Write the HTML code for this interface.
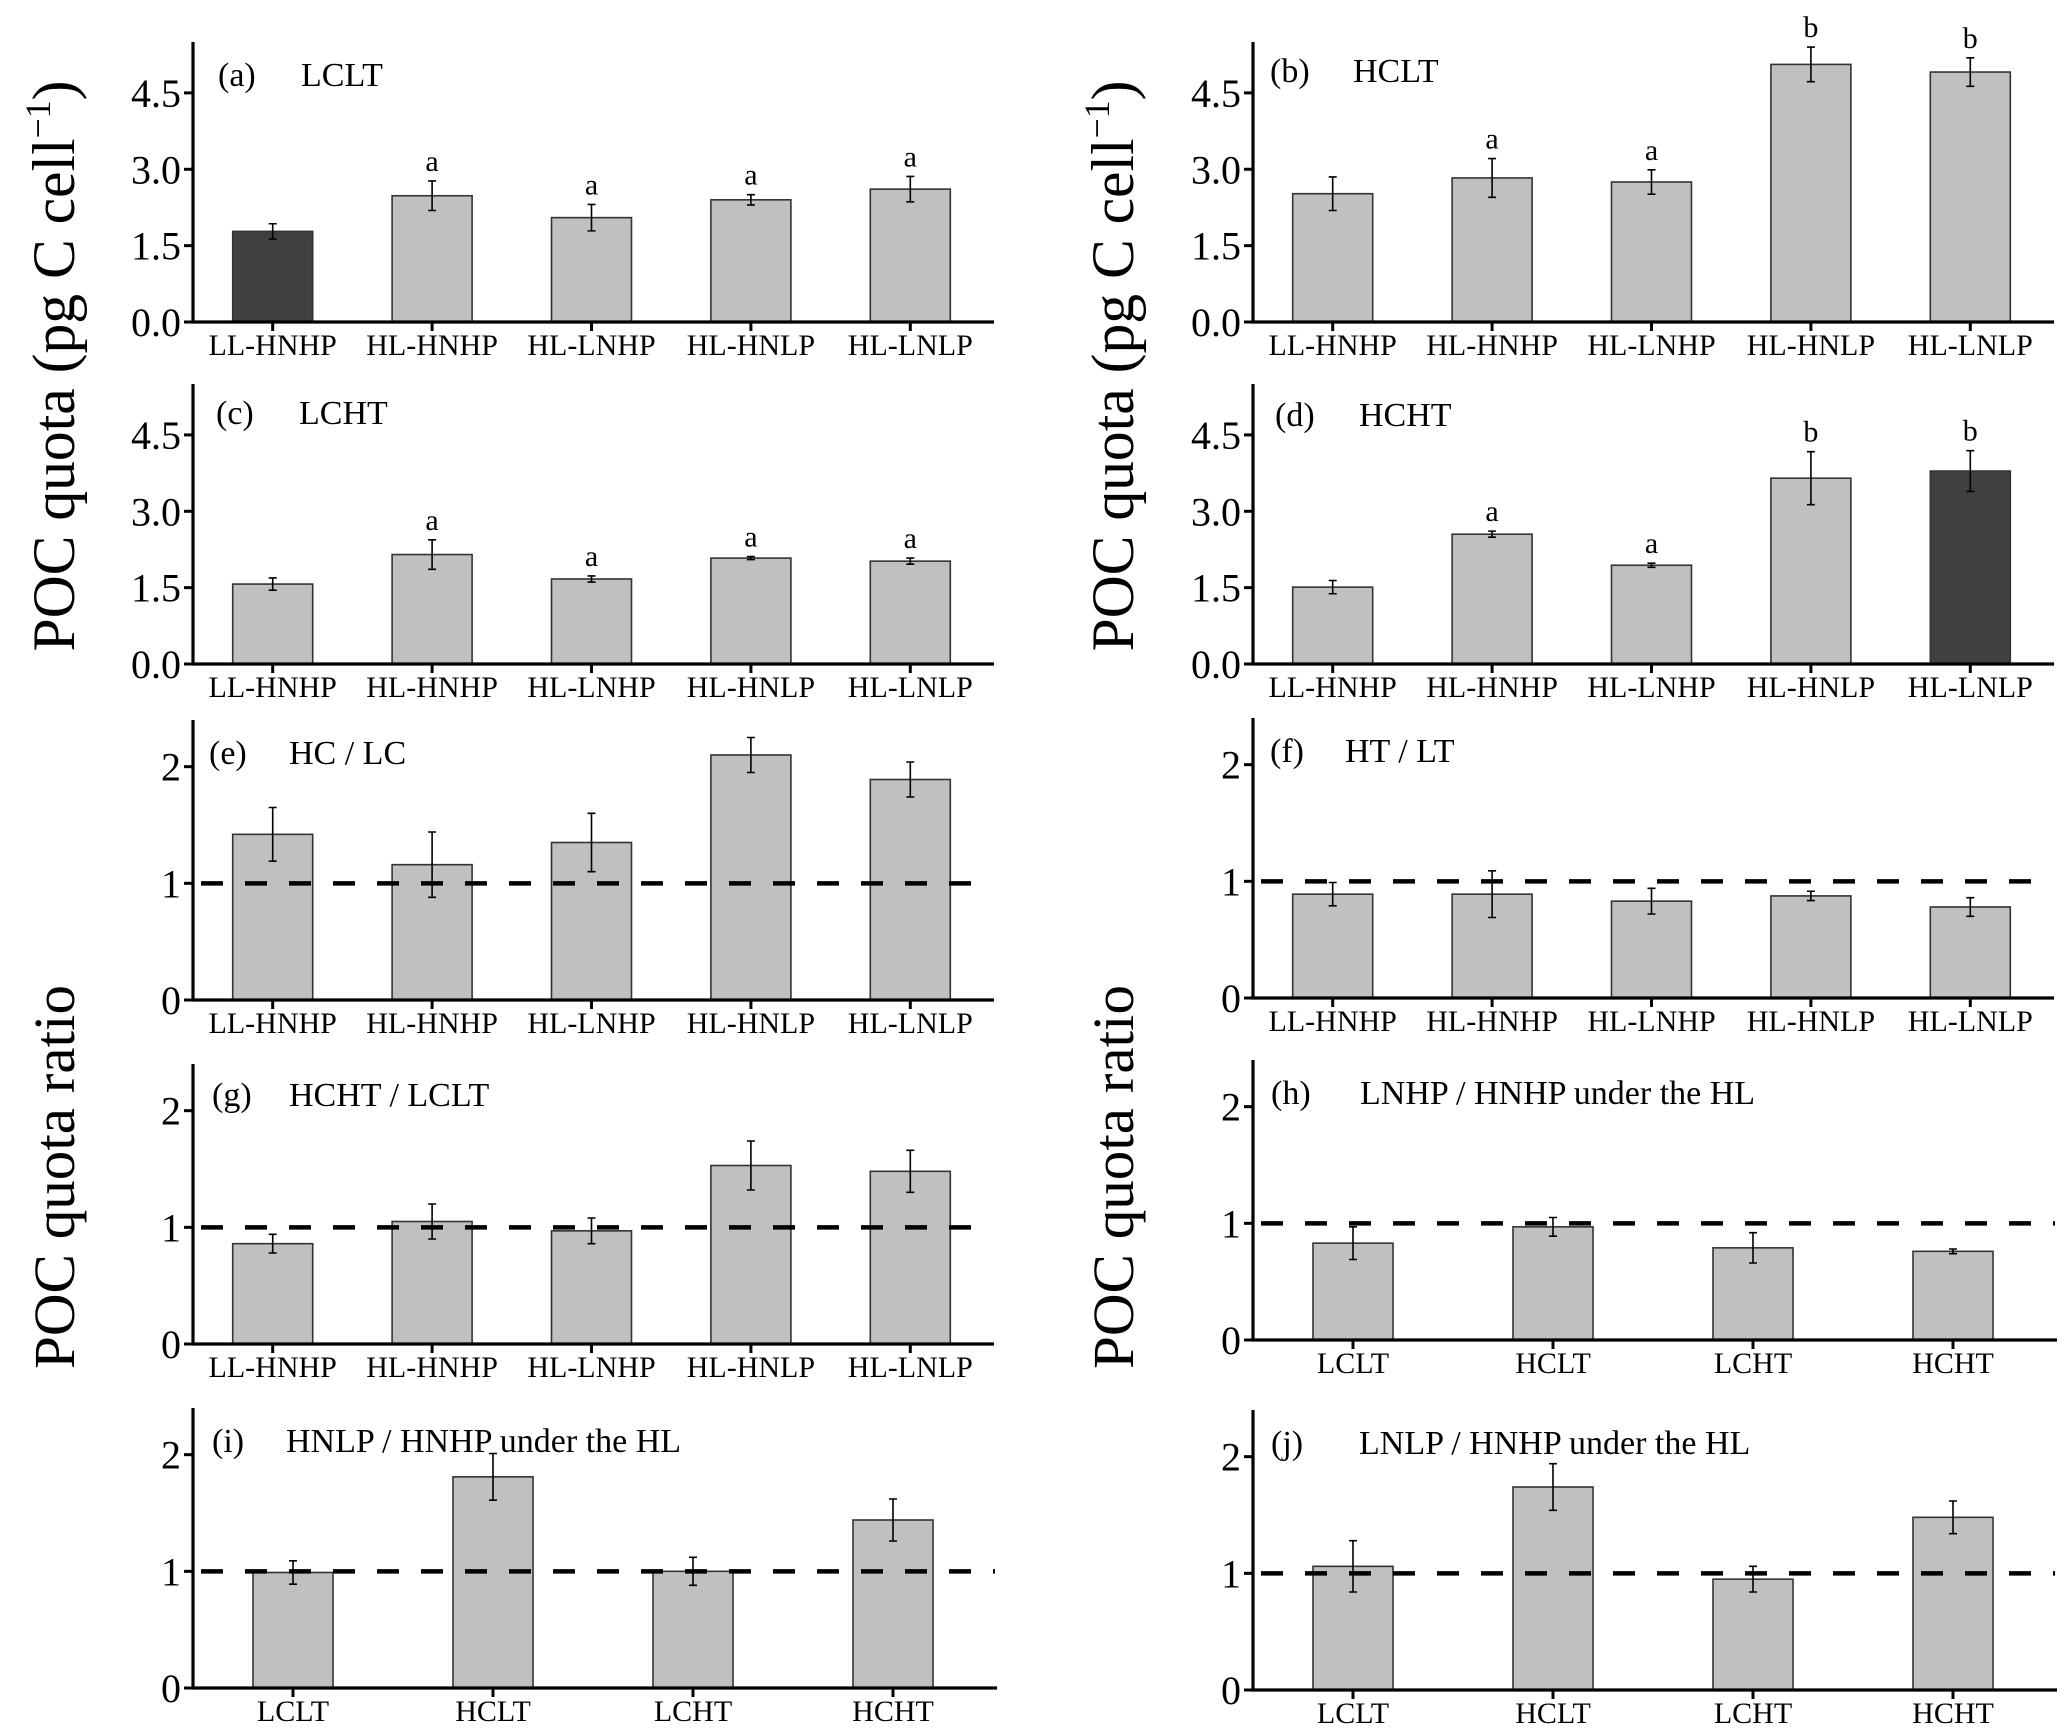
<!DOCTYPE html>
<html><head><meta charset="utf-8"><style>
html,body{margin:0;padding:0;background:#fff;}
svg{display:block;font-family:"Liberation Serif",serif;}
</style></head><body>
<svg id="fig" width="2067" height="1736" viewBox="0 0 2067 1736" xmlns="http://www.w3.org/2000/svg">
<text transform="translate(74,366) rotate(-90)" text-anchor="middle" font-size="60" textLength="571" lengthAdjust="spacingAndGlyphs">POC quota (pg C cell<tspan font-size="36" dy="-24">−1</tspan><tspan dy="24">)</tspan></text>
<text transform="translate(1133,366) rotate(-90)" text-anchor="middle" font-size="60" textLength="571" lengthAdjust="spacingAndGlyphs">POC quota (pg C cell<tspan font-size="36" dy="-24">−1</tspan><tspan dy="24">)</tspan></text>
<text transform="translate(74,1177) rotate(-90)" text-anchor="middle" font-size="58" textLength="384" lengthAdjust="spacingAndGlyphs">POC quota ratio</text>
<text transform="translate(1133,1177) rotate(-90)" text-anchor="middle" font-size="58" textLength="384" lengthAdjust="spacingAndGlyphs">POC quota ratio</text>
</svg>
<script>
const cats5 = ["LL-HNHP","HL-HNHP","HL-LNHP","HL-HNLP","HL-LNLP"];
const cats4 = ["LCLT","HCLT","LCHT","HCHT"];
const ticksQuota = ["0.0","1.5","3.0","4.5"];
const ticksRatio = ["0","1","2"];
const valsA = [1.78,2.48,2.05,2.40,2.61];
const errA  = [0.15,0.29,0.26,0.10,0.25];
const lettersA = ["","a","a","a","a"];
const valsB = [2.52,2.83,2.75,5.06,4.91];
const errB  = [0.33,0.38,0.24,0.34,0.28];
const lettersB = ["","a","a","b","b"];
const valsC = [1.57,2.15,1.67,2.08,2.02];
const errC  = [0.12,0.29,0.06,0.03,0.06];
const lettersC = ["","a","a","a","a"];
const valsD = [1.51,2.55,1.94,3.65,3.79];
const errD  = [0.13,0.06,0.04,0.52,0.40];
const lettersD = ["","a","a","b","b"];
const valsE = [1.42,1.16,1.35,2.10,1.89];
const errE  = [0.23,0.28,0.25,0.15,0.15];
const valsF = [0.89,0.89,0.83,0.875,0.78];
const errF  = [0.10,0.20,0.11,0.04,0.08];
const valsG = [0.86,1.05,0.97,1.53,1.48];
const errG  = [0.08,0.15,0.11,0.21,0.18];
const valsH = [0.83,0.97,0.79,0.76];
const errH  = [0.14,0.08,0.13,0.02];
const valsI = [0.99,1.81,1.00,1.44];
const errI  = [0.10,0.20,0.12,0.18];
const valsJ = [1.06,1.74,0.95,1.48];
const errJ  = [0.22,0.20,0.11,0.14];

const NS="http://www.w3.org/2000/svg";
const svg=document.getElementById('fig');
function mk(tag,attrs,parent){const e=document.createElementNS(NS,tag);for(const k in attrs)e.setAttribute(k,attrs[k]);(parent||svg).appendChild(e);return e;}

function panel(p){
  const g=mk('g',{});
  
  
  const x0=p.x0,w=p.w,base=p.base,h=280,top=base-h;
  const yS=v=>base-v/p.ymax*h;
  const n=p.cats.length,band=w/n;
  const xS=i=>x0+band*(i+0.5);
  // bars
  p.vals.forEach((v,i)=>{
    const r=mk('rect',{x:xS(i)-40,y:yS(v),width:80,height:base-yS(v),fill:(p.dark===i?'#404040':'#c0c0c0'),stroke:'#333','stroke-width':1.6},g);
    
    
    const e=p.err[i],cx=xS(i);
    const eb=mk('path',{d:`M${cx} ${yS(v+e)}V${yS(v-e)}M${cx-4} ${yS(v+e)}H${cx+4}M${cx-4} ${yS(v-e)}H${cx+4}`,stroke:'#000','stroke-width':1.6,fill:'none'},g);
    
    
    if(p.letters&&p.letters[i]){
      const t=mk('text',{x:cx,y:yS(v+e)-10,'text-anchor':'middle','font-size':30},g);
      t.textContent=p.letters[i];
      
      
    }
  });
  if(p.dash){
    const d=mk('line',{x1:x0+8,x2:x0+w+2,y1:yS(1),y2:yS(1),stroke:'#000','stroke-width':4.5,'stroke-dasharray':'22 22'},g);
    
    
  }
  // axes
  const ax=mk('path',{d:`M${x0} ${top}V${base}H${x0+w+4}`,stroke:'#000','stroke-width':3.2,fill:'none'},g);
  
  
  p.ticks.forEach(t=>{
    const y=yS(parseFloat(t));
    mk('line',{x1:x0-9,x2:x0,y1:y,y2:y,stroke:'#000','stroke-width':3},g);
    const tl=mk('text',{x:x0-12,y:y+14,'text-anchor':'end','font-size':40},g);
    tl.textContent=t;
    
    
  });
  p.cats.forEach((c,i)=>{
    mk('line',{x1:xS(i),x2:xS(i),y1:base,y2:base+9,stroke:'#000','stroke-width':3},g);
    const tl=mk('text',{x:xS(i),y:base+33,'text-anchor':'middle','font-size':30},g);
    tl.textContent=c;
    
    
  });
  const lb=mk('text',{x:x0+p.lx,y:top+p.ly,'font-size':34},g);
  lb.textContent=p.label;
  
  
  const tt=mk('text',{x:x0+p.tx,y:top+p.ly,'font-size':34},g);
  tt.textContent=p.title;
  
  
}
const L=193,R=1253,W5=797,W4=800;
panel({id:'a',x0:L,w:W5,base:322,ymax:5.5,cats:cats5,vals:valsA,err:errA,letters:lettersA,ticks:ticksQuota,dark:0,label:'(a)',title:'LCLT',lx:25,tx:108,ly:44});
panel({id:'b',x0:R,w:W5,base:322,ymax:5.5,cats:cats5,vals:valsB,err:errB,letters:lettersB,ticks:ticksQuota,label:'(b)',title:'HCLT',lx:17,tx:100,ly:40});
panel({id:'c',x0:L,w:W5,base:664,ymax:5.5,cats:cats5,vals:valsC,err:errC,letters:lettersC,ticks:ticksQuota,label:'(c)',title:'LCHT',lx:23,tx:106,ly:40});
panel({id:'d',x0:R,w:W5,base:664,ymax:5.5,cats:cats5,vals:valsD,err:errD,letters:lettersD,ticks:ticksQuota,dark:4,label:'(d)',title:'HCHT',lx:22,tx:106,ly:42});
panel({id:'e',x0:L,w:W5,base:1000,ymax:2.4,cats:cats5,vals:valsE,err:errE,ticks:ticksRatio,dash:1,label:'(e)',title:'HC / LC',lx:16,tx:96,ly:44});
panel({id:'f',x0:R,w:W5,base:998,ymax:2.4,cats:cats5,vals:valsF,err:errF,ticks:ticksRatio,dash:1,label:'(f)',title:'HT / LT',lx:17,tx:92,ly:44});
panel({id:'g',x0:L,w:W5,base:1344,ymax:2.4,cats:cats5,vals:valsG,err:errG,ticks:ticksRatio,dash:1,label:'(g)',title:'HCHT / LCLT',lx:19,tx:96,ly:42});
panel({id:'h',x0:R,w:W4,base:1340,ymax:2.4,cats:cats4,vals:valsH,err:errH,ticks:ticksRatio,dash:1,label:'(h)',title:'LNHP / HNHP under the HL',lx:18,tx:107,ly:44});
panel({id:'i',x0:L,w:W4,base:1688,ymax:2.4,cats:cats4,vals:valsI,err:errI,ticks:ticksRatio,dash:1,label:'(i)',title:'HNLP / HNHP under the HL',lx:19,tx:93,ly:44});
panel({id:'j',x0:R,w:W4,base:1690,ymax:2.4,cats:cats4,vals:valsJ,err:errJ,ticks:ticksRatio,dash:1,label:'(j)',title:'LNLP / HNHP under the HL',lx:18,tx:106,ly:44});
</script>
</body></html>
